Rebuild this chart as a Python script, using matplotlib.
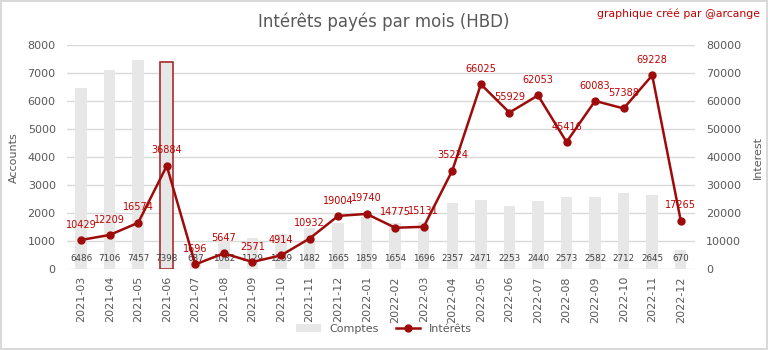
import matplotlib.pyplot as plt
from matplotlib.lines import Line2D
from matplotlib.patches import Patch

mois = ["2021-03", "2021-04", "2021-05", "2021-06", "2021-07", "2021-08",
        "2021-09", "2021-10", "2021-11", "2021-12", "2022-01", "2022-02",
        "2022-03", "2022-04", "2022-05", "2022-06", "2022-07", "2022-08",
        "2022-09", "2022-10", "2022-11", "2022-12"]
comptes = [6486, 7106, 7457, 7398, 687, 1082, 1129, 1259, 1482, 1665, 1859,
           1654, 1696, 2357, 2471, 2253, 2440, 2573, 2582, 2712, 2645, 670]
interets = [10429, 12209, 16574, 36884, 1696, 5647, 2571, 4914, 10932, 19004,
            19740, 14775, 15131, 35224, 66025, 55929, 62053, 45416, 60083,
            57388, 69228, 17265]
mois_surligne = "2021-06"

gris = "#595959"
rouge_ligne = "#9e0b0b"
rouge_texte = "#c00000"

fig = plt.figure(figsize=(7.68, 3.5), dpi=100)
fig.patch.set_edgecolor("#d9d9d9")
fig.patch.set_linewidth(1.5)
ax = fig.add_axes([0.087, 0.231, 0.818, 0.64])
ax2 = ax.twinx()

x = list(range(len(mois)))
ax.bar(x, comptes, width=0.4, color="#e7e7e7", zorder=2)
# mois mis en évidence
i_s = mois.index(mois_surligne)
ax.bar(i_s, comptes[i_s], width=0.46, facecolor="none",
       edgecolor="#a52a2a", linewidth=1.2, zorder=3)

for xi, c in zip(x, comptes):
    ax.text(xi, 390, str(c), ha="center", va="center", fontsize=6.3,
            color="#404040", zorder=4)

ax.set_ylim(0, 8000)
ax.set_xlim(-0.5, len(mois) - 0.5)
ax.set_yticks(range(0, 8001, 1000))
ax.yaxis.grid(True, color="#d9d9d9", linewidth=1, zorder=0)
ax.set_axisbelow(True)
ax.set_xticks(x)
ax.set_xticklabels(mois, rotation=90, fontsize=8, color=gris)
ax.tick_params(axis="y", labelsize=8, colors=gris, length=0, pad=8)
ax.tick_params(axis="x", length=0, pad=5)
ax.set_ylabel("Accounts", fontsize=8, color=gris, labelpad=6)

ax2.plot(x, interets, color=rouge_ligne, linewidth=1.8, marker="o",
         markersize=5, zorder=5)
for xi, v in zip(x, interets):
    ax2.annotate(str(v), (xi, v), xytext=(0, 7.5), textcoords="offset points",
                 ha="center", va="bottom", fontsize=7, color=rouge_texte)
ax2.set_ylim(0, 80000)
ax2.set_yticks(range(0, 80001, 10000))
ax2.tick_params(axis="y", labelsize=8, colors=gris, length=0, pad=8)
ax2.set_ylabel("Interest", fontsize=8, color=gris, labelpad=8)

for a in (ax, ax2):
    for s in a.spines.values():
        s.set_visible(False)

fig.text(0.5, 0.937, "Intérêts payés par mois (HBD)", ha="center",
         va="center", fontsize=12, color=gris)
fig.text(0.99, 0.962, "graphique créé par @arcange", ha="right", va="center",
         fontsize=7.8, color=rouge_texte)

handles = [Patch(facecolor="#e7e7e7", label="Comptes"),
           Line2D([0], [0], color=rouge_ligne, marker="o", markersize=5,
                  linewidth=1.8, label="Intérêts")]
leg = fig.legend(handles=handles, loc="center", bbox_to_anchor=(0.5, 0.06),
                 ncol=2, frameon=False, fontsize=8, handlelength=2.2,
                 columnspacing=1.5)
for t in leg.get_texts():
    t.set_color(gris)

fig.savefig("out.png", dpi=100)
